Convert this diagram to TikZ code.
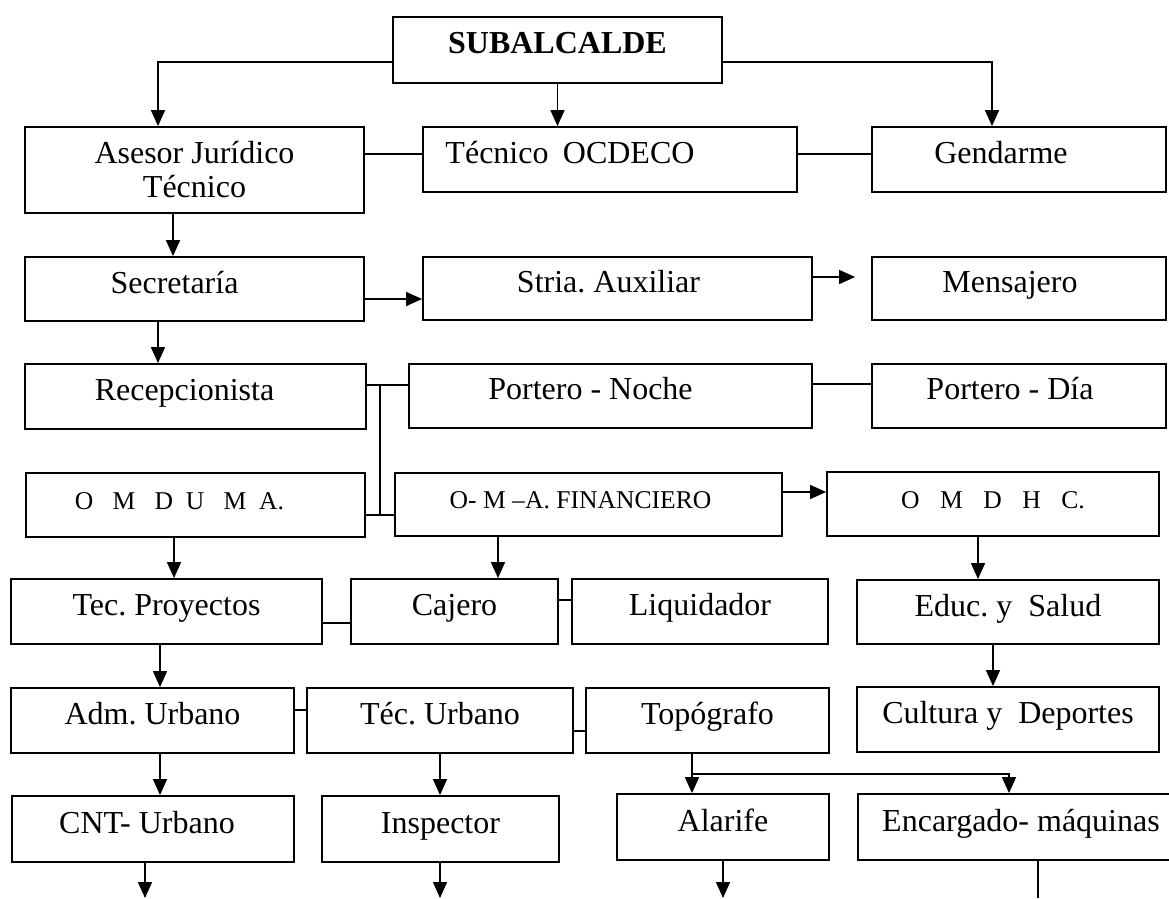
\documentclass[tikz,border=0pt]{standalone}
\usepackage{fontspec}
\setmainfont{Liberation Serif}
\usetikzlibrary{arrows.meta}
\frenchspacing

\newcommand\chico{\fontsize{12.8}{14}\selectfont}

\tikzset{
    unidad/.style={draw, rectangle, line width=0.9pt, inner sep=0pt,
        font=\fontsize{16}{17}\selectfont},
    cargo/.style={unidad, text height=11.2pt, text depth=7.2pt},
    enlace/.style={line width=0.75pt},
}

\begin{document}
\begin{tikzpicture}[x=0.5pt, y=-0.5pt, >={Triangle[length=8pt, width=7pt]}]
        \useasboundingbox (0,0) rectangle (1169,899);

        %%%%%%%%%%%%%%%%%%%%%%%%%%%%%%%%%%%%%%%%%%%%
        % Units
        %%%%%%%%%%%%%%%%%%%%%%%%%%%%%%%%%%%%%%%%%%%%

        % Drawing
        \foreach \nm/\xa/\ya/\xb/\yb/\txt in {
            sub/393/17/722/83/{\textbf{SUBALCALDE}},
            ocd/423/127/797/192/{Técnico\hspace{.45em}OCDECO\hspace*{40pt}},
            gen/872/127/1166/192/{Gendarme\hspace*{18pt}},
            sec/25/257/364/321/{Secretaría\hspace*{20pt}},
            stri/423/257/812/320/{Stria. Auxiliar\hspace*{9pt}},
            men/872/257/1166/320/{Mensajero\hspace*{9pt}},
            rec/25/364/366/429/{Recepcionista\hspace*{11pt}},
            pno/409/364/812/428/{Portero - Noche\hspace*{20pt}},
            pdi/872/364/1166/428/{Portero - Día\hspace*{9pt}},
            omd/26/473/365/537/{\chico O~~~M~~~D~~U~~~M~~A.\hspace*{16pt}},
            fin/395/473/782/536/{\chico O- M –A. FINANCIERO\hspace*{8pt}},
            omh/827/472/1159/536/{\chico O\hspace{.8em}M\hspace{.8em}D\hspace{.8em}H\hspace{.8em}C.},
            tpr/11/579/322/644/{Tec. Proyectos},
            caj/351/579/558/644/{Cajero},
            liq/572/579/828/644/{Liquidador},
            edu/857/580/1159/644/{Educ. y~~Salud},
            adm/11/688/294/753/{Adm. Urbano},
            tur/307/688/573/753/{Téc. Urbano},
            topo/586/688/829/753/{Topógrafo},
            cul/857/687/1159/752/{Cultura y~~Deportes},
            cnt/12/796/294/862/{CNT- Urbano\hspace*{6pt}},
            ins/322/796/559/862/{Inspector},
            ala/617/794/829/860/{Alarife},
            enc/858/794/1184/860/{Encargado- máquinas}}
            \node [cargo, minimum width={(\xb-\xa)*0.5pt}, minimum height={(\yb-\ya)*0.5pt}]
                (\nm) at ({(\xa+\xb)/2},{(\ya+\yb)/2}) {\txt};

        % Two-line unit
        \node [unidad, align=center, minimum width=169.5pt, minimum height=43pt]
            (ase) at (194.5,170) {Asesor Jurídico\\Técnico};


        %%%%%%%%%%%%%%%%%%%%%%%%%%%%%%%%%%%%%%%%%%%%
        % Connecting
        %%%%%%%%%%%%%%%%%%%%%%%%%%%%%%%%%%%%%%%%%%%%

        % Subalcalde to first row
        \draw [enlace, ->] (sub.west |- 0,62) -| (ase.north -| 158,0);
        \draw [enlace, ->] (sub.south) -- (sub.south |- ocd.north);
        \draw [enlace, ->] (sub.east |- 0,62) -| (gen.north -| 992,0);

        % Downwards
        \foreach \a/\b/\x in {ase/sec/173, sec/rec/158, omd/tpr/174, fin/caj/498,
                omh/edu/978, tpr/adm/160, edu/cul/993, adm/cnt/160, tur/ins/440,
                topo/ala/692}
            \draw [enlace, ->] (\a.south -| \x,0) -- (\b.north -| \x,0);
        \draw [enlace, ->] (topo.south -| 692,0) |- (1009,774) -- (enc.north -| 1009,0);

        % Sideways
        \foreach \a/\b/\y in {ase/ocd/154, ocd/gen/154, rec/pno/385, pno/pdi/384,
                omd/fin/515, tpr/caj/623, caj/liq/600, adm/tur/710, tur/topo/731}
            \draw [enlace] (\a.east |- 0,\y) -- (\b.west |- 0,\y);
        \draw [enlace] (380,385) -- (380,515);
        \foreach \a/\b/\y in {sec/stri/299, fin/omh/492}
            \draw [enlace, ->] (\a.east |- 0,\y) -- (\b.west |- 0,\y);
        \draw [enlace, ->, shorten >=8pt] (stri.east |- 0,277) -- (men.west |- 0,277);

        % Leaving the page
        \coordinate (borde) at (0,898);
        \foreach \a/\x in {cnt/145, ins/440, ala/723}
            \draw [enlace, ->] (\a.south -| \x,0) -- (borde -| \x,0);
        \draw [enlace] (enc.south -| 1038,0) -- (borde -| 1038,0);
    \end{tikzpicture}
\end{document}
